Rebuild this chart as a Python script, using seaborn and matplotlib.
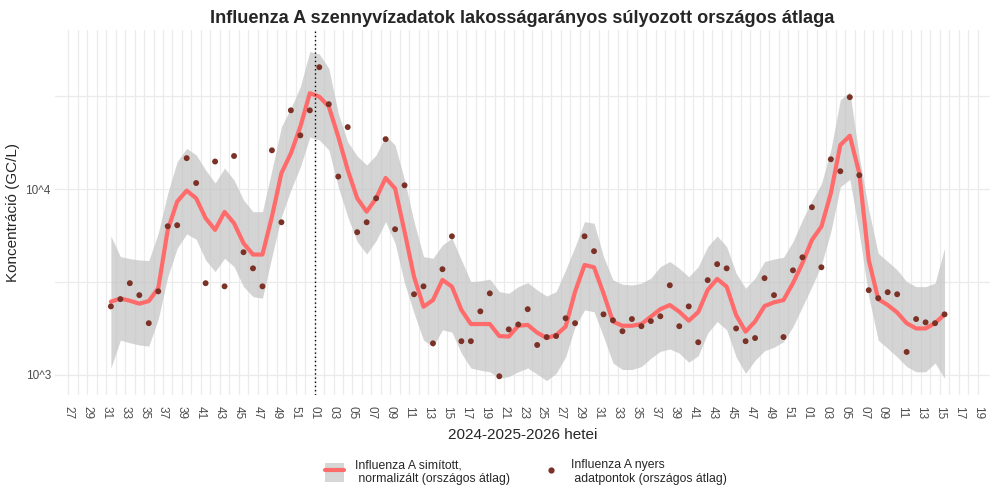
import numpy as np
import pandas as pd
import seaborn as sns
import matplotlib.pyplot as plt
from matplotlib.patches import Patch
from matplotlib.lines import Line2D
from matplotlib.legend_handler import HandlerTuple
from matplotlib.ticker import FixedLocator, NullFormatter

# Week labels: 2024 w27..w52, 2025 w01..w52, 2026 w01..w19
week_labels = ([f"{w:02d}" for w in range(27, 53)]
               + [f"{w:02d}" for w in range(1, 53)]
               + [f"{w:02d}" for w in range(1, 20)])

# weekly data from 2024 w31 to 2026 w15 (GC/L)
raw = [2340, 2560, 3120, 2690, 1900, 2820, 6320, 6400, 14700, 10800,
       3120, 14100, 3000, 15100, 4580, 3750, 3000, 16200, 6640, 26600,
       19500, 26600, 45400, 28700, 11700, 21600, 5870, 6640, 8940, 18600,
       6090, 10500, 2720, 3000, 1480, 3710, 5580, 1520, 1520, 2200,
       2750, 984, 1760, 1870, 2260, 1450, 1600, 1620, 2020, 1900,
       5580, 4640, 2120, 1970, 1720, 2000, 1830, 1950, 2070, 3040,
       1830, 2340, 1500, 3240, 3950, 3750, 1780, 1520, 1580, 3320,
       2690, 1600, 3660, 4300, 8000, 3800, 14500, 12500, 31300, 11900,
       2860, 2590, 2790, 2720, 1330, 2000, 1920, 1900, 2120]

smooth = [2480, 2580, 2510, 2420, 2500, 2930, 6040, 8580, 9830, 8940,
          6980, 6040, 7550, 6560, 5120, 4450, 4450, 7120, 12200, 15600,
          21700, 32900, 31500, 27900, 19200, 12700, 8940, 7570, 8940, 11500,
          10100, 5910, 3380, 2330, 2530, 3250, 2990, 2240, 1880, 1880,
          1880, 1620, 1610, 1840, 1860, 1690, 1580, 1640, 1820, 2810,
          3910, 3800, 2750, 1940, 1840, 1840, 1880, 2060, 2260, 2380,
          2190, 1960, 2180, 2870, 3290, 2990, 2100, 1710, 1940, 2350,
          2460, 2530, 3120, 4000, 5330, 6290, 9520, 17300, 19400, 12200,
          4160, 2560, 2380, 2170, 1900, 1780, 1780, 1900, 2120]

upper = [5600, 4340, 4230, 4160, 4130, 5800, 9520, 14100, 16600, 15300,
         12700, 10800, 13000, 11200, 8760, 7570, 7570, 12700, 21700, 27300,
         35700, 55100, 53500, 44800, 25700, 18000, 15100, 13500, 15300, 19400,
         17300, 11200, 6690, 4340, 4250, 5010, 5450, 4160, 3180, 3210,
         3280, 2810, 2750, 2990, 3140, 2870, 2660, 2810, 3680, 4910,
         6690, 6560, 4340, 3250, 3080, 3050, 3120, 3320, 3830, 4080,
         3750, 3380, 3830, 4910, 5600, 4910, 3530, 2930, 3320, 4080,
         4210, 4300, 5220, 6830, 8680, 10700, 16300, 30300, 33500, 15000,
         7740, 4520, 4080, 3680, 3180, 2990, 2990, 3120, 4810]

lower = [1090, 1540, 1490, 1450, 1430, 2000, 3380, 4810, 5750, 5380,
         4160, 3600, 4250, 3830, 2990, 2640, 2590, 4340, 7120, 9910,
         13200, 19100, 18400, 16300, 10300, 7120, 5220, 4480, 5290, 6690,
         5120, 3120, 2150, 1540, 1420, 1750, 1700, 1310, 1090, 1060,
         1040, 960, 980, 1040, 1090, 1010, 932, 1020, 1250, 1820,
         2240, 2190, 1610, 1160, 1070, 1070, 1110, 1230, 1340, 1380,
         1310, 1170, 1270, 1680, 1940, 1750, 1250, 1020, 1200, 1350,
         1410, 1510, 1820, 2330, 2990, 3910, 5910, 10300, 11300, 5800,
         2640, 1540, 1390, 1250, 1110, 1040, 1040, 1160, 960]

df = pd.DataFrame({
    "week": np.arange(4, 4 + len(raw)) + 0.5,  # samples sit mid-week
    "raw": raw,
    "smooth": smooth,
    "upper": upper,
    "lower": lower,
})

sns.set_style("white")
plt.rcParams["font.family"] = ["Liberation Sans", "DejaVu Sans"]

fig = plt.figure(figsize=(10, 5), dpi=100)
ax = fig.add_axes([0.055, 0.21, 0.935, 0.73])

grid_col = "#EBEBEB"
ribbon_col = "#C4C4C4"
line_col = "#FF6B6B"
point_col = "#7B3126"

ax.fill_between(df["week"], df["lower"], df["upper"], color=ribbon_col,
                alpha=0.72, linewidth=0, zorder=2)
sns.lineplot(data=df, x="week", y="smooth", color=line_col, linewidth=3,
             ax=ax, zorder=3)
sns.scatterplot(data=df, x="week", y="raw", color=point_col, s=18,
                edgecolor="none", ax=ax, zorder=4)

ax.axvline(26, color="black", linestyle=(0, (1, 2)), linewidth=1, zorder=5)

ax.set_yscale("log")
ax.set_ylim(780, 72000)
ax.yaxis.set_major_locator(FixedLocator([1e3, 1e4]))
ax.set_yticklabels(["10^3", "10^4"])
ax.yaxis.set_minor_locator(FixedLocator([10 ** 3.5, 10 ** 4.5]))
ax.yaxis.set_minor_formatter(NullFormatter())

ax.set_xlim(-1.4, 97.3)
ax.set_xticks(np.arange(0, len(week_labels), 2))
ax.set_xticklabels(week_labels[::2], rotation=-90)
ax.set_xticks(np.arange(1, len(week_labels), 2), minor=True)

ax.grid(True, which="both", color=grid_col, linewidth=0.9, zorder=0)
ax.set_axisbelow(True)
for s in ax.spines.values():
    s.set_visible(False)
ax.tick_params(axis="both", which="both", length=0, labelsize=8.5,
               labelcolor="#4D4D4D", pad=3)
ax.tick_params(axis="x", pad=8)

ax.set_xlabel("2024-2025-2026 hetei", fontsize=11, labelpad=6)
ax.set_ylabel("Koncentráció (GC/L)", fontsize=11, labelpad=4)
ax.set_title("Influenza A szennyvízadatok lakosságarányos súlyozott országos átlaga",
             fontsize=13.1, fontweight="bold", pad=5)

h1 = (Patch(facecolor="#D6D6D6", edgecolor="none"),
      Line2D([0], [0], color=line_col, linewidth=3))
h2 = Line2D([0], [0], marker="o", color="none", markerfacecolor=point_col,
            markeredgecolor="none", markersize=4.5)
fig.legend([h1, h2],
           ["Influenza A simított,\n normalizált (országos átlag)",
            "Influenza A nyers\n adatpontok (országos átlag)"],
           handler_map={tuple: HandlerTuple(ndivide=1, pad=0)},
           loc="center", bbox_to_anchor=(0.526, 0.056), ncol=2, frameon=False,
           fontsize=8.8, handlelength=1.5, handleheight=2.0,
           columnspacing=2.6, handletextpad=0.9)

plt.savefig("out.png", dpi=100)
